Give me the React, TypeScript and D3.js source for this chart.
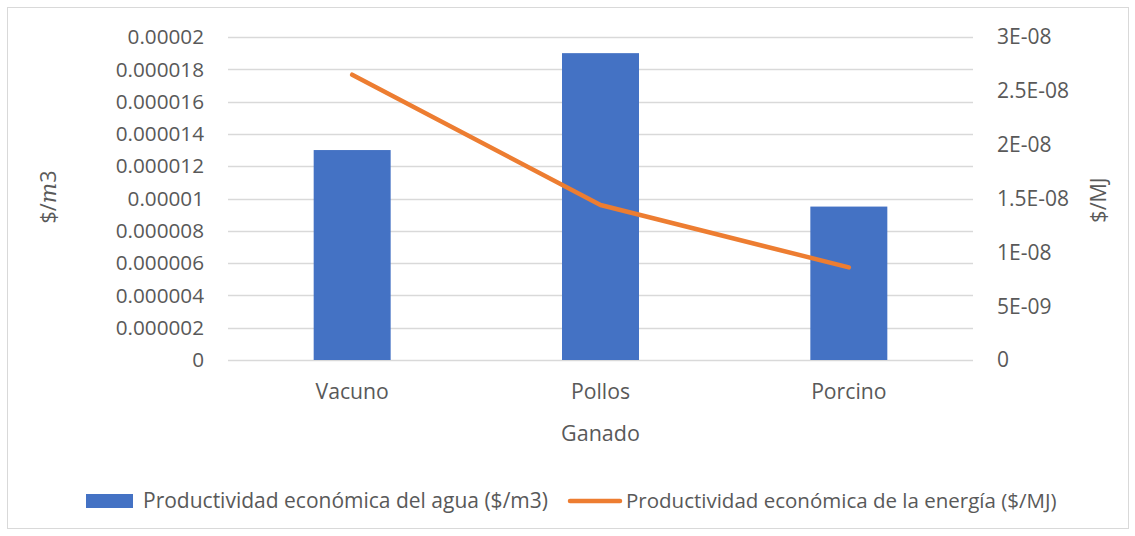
import React from "react";
import * as d3 from "d3";

const categories = ["Vacuno", "Pollos", "Porcino"];
const waterValues = [0.000013, 0.000019, 0.0000095];
const energyValues = [2.65e-8, 1.44e-8, 0.86e-8];
const leftTicks = [0, 0.000002, 0.000004, 0.000006, 0.000008, 0.00001, 0.000012, 0.000014, 0.000016, 0.000018, 0.00002];
const leftTickLabels = ["0", "0.000002", "0.000004", "0.000006", "0.000008", "0.00001", "0.000012", "0.000014", "0.000016", "0.000018", "0.00002"];
const rightTicks = [0, 5e-9, 1e-8, 1.5e-8, 2e-8, 2.5e-8, 3e-8];
const rightTickLabels = ["0", "5E-09", "1E-08", "1.5E-08", "2E-08", "2.5E-08", "3E-08"];
const seriesNames = ["Productividad económica del agua ($/m3)", "Productividad económica de la energía ($/MJ)"];

const W = 1135;
const H = 536;
const FONT = "'Open Sans', sans-serif";
const TXT = "#595959";

export default function App() {
  const left = 228, right = 973, top = 37, bottom = 360;
  const x = d3.scaleBand().domain(categories).range([left, right]).paddingInner(0.69).paddingOuter(0.345);
  const xc = (c: string) => (x(c) as number) + x.bandwidth() / 2;
  const yL = d3.scaleLinear().domain([0, 0.00002]).range([bottom, top]);
  const yR = d3.scaleLinear().domain([0, 3e-8]).range([bottom, top]);
  const line = d3.line<number>().x((_, i) => xc(categories[i])).y((d) => yR(d));

  return (
    <svg width={W} height={H} style={{ position: "absolute", left: 0, top: 0 }} fontFamily={FONT}>
      <rect x={0} y={0} width={W} height={H} fill="#fff" />
      <rect x={7.5} y={7.5} width={1121} height={521} fill="none" stroke="#D9D9D9" strokeWidth={1} />
      {leftTicks.map((t, i) => (
        <g key={i}>
          <line x1={left} x2={right} y1={Math.round(yL(t)) + 0.5} y2={Math.round(yL(t)) + 0.5} stroke="#D9D9D9" strokeWidth={1.3} />
          <text x={204} y={yL(t)} dy="0.35em" textAnchor="end" fontSize={20.7} fill={TXT}>{leftTickLabels[i]}</text>
        </g>
      ))}
      {rightTicks.map((t, i) => (
        <text key={i} x={997} y={yR(t)} dy="0.35em" textAnchor="start" fontSize={21} fill={TXT}>{rightTickLabels[i]}</text>
      ))}
      {categories.map((c, i) => (
        <rect key={c} x={x(c)} y={yL(waterValues[i])} width={x.bandwidth()} height={bottom - yL(waterValues[i])} fill="#4472C4" />
      ))}
      <path d={line(energyValues) || ""} fill="none" stroke="#ED7D31" strokeWidth={4.5} strokeLinecap="round" strokeLinejoin="round" />
      {categories.map((c) => (
        <text key={c} x={xc(c)} y={392} dy="0.35em" textAnchor="middle" fontSize={21.2} fill={TXT}>{c}</text>
      ))}
      <text x={xc(categories[1])} y={433} dy="0.35em" textAnchor="middle" fontSize={21.5} fill={TXT}>Ganado</text>
      <text transform="translate(48,197) rotate(-90)" dy="0.35em" textAnchor="middle" fontSize={21.5} fill={TXT}>
        $/<tspan fontStyle="italic" fontFamily="'DejaVu Serif', serif">m</tspan>3
      </text>
      <text transform="translate(1098,200) rotate(-90)" dy="0.35em" textAnchor="middle" fontSize={21.5} fill={TXT}>$/MJ</text>
      <rect x={86} y={494} width={47} height={14} fill="#4472C4" />
      <text x={143} y={501} dy="0.35em" fontSize={21} fill={TXT}>{seriesNames[0]}</text>
      <line x1={570} x2={620} y1={501} y2={501} stroke="#ED7D31" strokeWidth={4.5} strokeLinecap="round" />
      <text x={626} y={501} dy="0.35em" fontSize={20.5} fill={TXT}>{seriesNames[1]}</text>
    </svg>
  );
}
